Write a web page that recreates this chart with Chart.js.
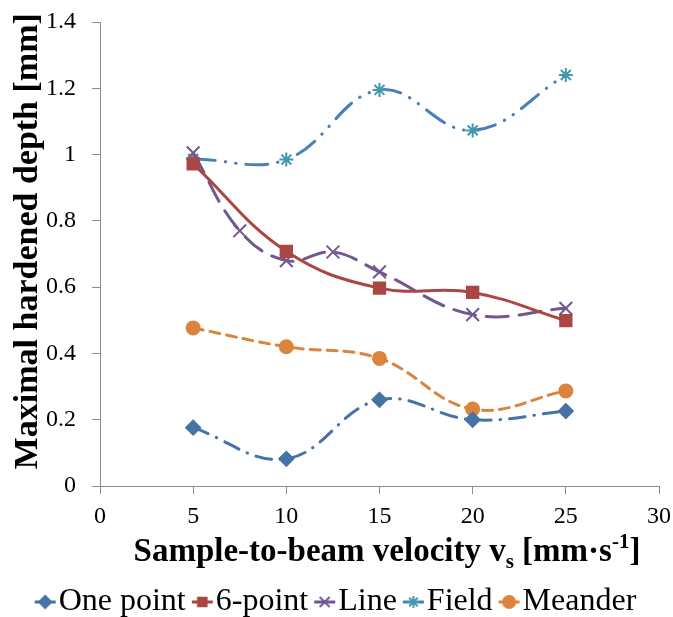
<!DOCTYPE html>
<html>
<head>
<meta charset="utf-8">
<script src="https://cdn.jsdelivr.net/npm/chart.js@4"></script>
<style>
  html, body { margin: 0; padding: 0; background: #fff; }
  #wrap { width: 673px; height: 617px; }
</style>
</head>
<body>
<div id="wrap"><canvas id="depthChart" width="673" height="617"></canvas></div>
<script>
// values
const xOnePoint = [5, 10, 15, 20, 25];
const yOnePoint = [0.176, 0.082, 0.26, 0.2, 0.226];
const xSixPoint = [5, 10, 15, 20, 25];
const ySixPoint = [0.972, 0.708, 0.597, 0.584, 0.499];
const xLine = [5, 7.5, 10, 12.5, 15, 20, 25];
const yLine = [1.005, 0.77, 0.68, 0.706, 0.646, 0.517, 0.536];
const xField = [5, 10, 15, 20, 25];
const yField = [0.987, 0.985, 1.195, 1.073, 1.24];
const xMeander = [5, 10, 15, 20, 25];
const yMeander = [0.477, 0.42, 0.385, 0.232, 0.287];
const xTicks = [0, 5, 10, 15, 20, 25, 30];
const yTicks = [0, 0.2, 0.4, 0.6, 0.8, 1, 1.2, 1.4];

const serif = "'Liberation Serif', 'Times New Roman', serif";

function pts(xs, ys) {
  return xs.map((x, i) => ({ x: x, y: ys[i] }));
}

function series(label, xs, ys, color, markerColor, style, radius, dash) {
  return {
    label: label,
    data: pts(xs, ys),
    showLine: true,
    borderColor: color,
    backgroundColor: markerColor,
    pointBorderColor: markerColor,
    pointBackgroundColor: markerColor,
    pointStyle: style,
    pointRadius: radius,
    pointBorderWidth: 2,
    borderWidth: 3,
    borderDash: dash,
    borderCapStyle: 'round',
    tension: 0.4
  };
}

// legend icon: short line with the marker on it, drawn off-centre so it sits
// right before the label text
function legendIcon(ds) {
  const c = document.createElement('canvas');
  c.width = 40;
  c.height = 18;
  const g = c.getContext('2d');
  g.strokeStyle = ds.borderColor;
  g.lineWidth = 3;
  g.beginPath();
  g.moveTo(13, 9);
  g.lineTo(34, 9);
  g.stroke();
  g.fillStyle = ds.pointBackgroundColor;
  g.strokeStyle = ds.pointBorderColor;
  g.lineWidth = 2;
  Chart.helpers.drawPoint(g, {
    pointStyle: ds.pointStyle,
    radius: ds.pointStyle === 'crossRot' ? 7 : 6,
    borderWidth: 2,
    rotation: 0
  }, 23.5, 9);
  return c;
}

// x axis title with subscript / superscript
const xTitlePlugin = {
  id: 'xTitle',
  afterDraw(chart) {
    const ctx = chart.ctx;
    const parts = [
      { t: 'Sample-to-beam velocity v', size: 33, dy: 0 },
      { t: 's', size: 21, dy: 7 },
      { t: ' [mm\u00b7s', size: 33, dy: 0 },
      { t: '-1', size: 21, dy: -13 },
      { t: ']', size: 33, dy: 0 }
    ];
    ctx.save();
    ctx.fillStyle = '#000';
    ctx.textBaseline = 'alphabetic';
    let total = 0;
    parts.forEach(p => {
      ctx.font = 'bold ' + p.size + 'px ' + serif;
      p.w = ctx.measureText(p.t).width;
      total += p.w;
    });
    let x = 387 - total / 2;
    const base = 561;
    parts.forEach(p => {
      ctx.font = 'bold ' + p.size + 'px ' + serif;
      ctx.fillText(p.t, x, base + p.dy);
      x += p.w;
    });
    ctx.restore();
  }
};

const datasets = [
  series('One point', xOnePoint, yOnePoint, '#4572A7', '#4572A7', 'rectRot', 7, [16, 9, 0.5, 9]),
  series('6-point', xSixPoint, ySixPoint, '#AA4643', '#AA4643', 'rect', 8, []),
  series('Line', xLine, yLine, '#71588F', '#71588F', 'crossRot', 9, [22, 11]),
  series('Field', xField, yField, '#4A7EBB', '#4198AF', 'star', 7, [22, 10, 0.5, 10, 0.5, 10]),
  series('Meander', xMeander, yMeander, '#DB843D', '#DB843D', 'circle', 6.5, [10, 7])
];

new Chart(document.getElementById('depthChart').getContext('2d'), {
  type: 'scatter',
  data: { datasets: datasets },
  plugins: [xTitlePlugin],
  options: {
    responsive: false,
    animation: false,
    layout: { padding: { left: 4, right: 0, top: 22, bottom: -11 } },
    plugins: {
      tooltip: { enabled: false },
      legend: {
        position: 'bottom',
        labels: {
          usePointStyle: true,
          boxWidth: 2,
          padding: 12,
          color: '#000',
          font: { family: serif, size: 32 },
          generateLabels(chart) {
            const items = Chart.defaults.plugins.legend.labels.generateLabels(chart);
            items.forEach(it => {
              it.pointStyle = legendIcon(chart.data.datasets[it.datasetIndex]);
            });
            return items;
          }
        }
      }
    },
    scales: {
      x: {
        type: 'linear',
        min: 0,
        max: 30,
        afterBuildTicks(scale) { scale.ticks = xTicks.map(v => ({ value: v })); },
        afterFit(scale) {
          scale.height = 88;
          scale.paddingRight = 0;
          scale.paddingLeft = 0;
        },
        grid: { drawOnChartArea: false, drawTicks: true, tickLength: 8, color: '#8c8c8c' },
        border: { color: '#8c8c8c', width: 1 },
        ticks: { color: '#000', padding: 8, font: { family: serif, size: 24 } }
      },
      y: {
        type: 'linear',
        min: 0,
        max: 1.4,
        afterBuildTicks(scale) { scale.ticks = yTicks.map(v => ({ value: v })); },
        afterFit(scale) {
          scale.width = 96;
          scale.paddingTop = 0;
          scale.paddingBottom = 0;
        },
        grid: { drawOnChartArea: false, drawTicks: true, tickLength: 8, color: '#8c8c8c' },
        border: { color: '#8c8c8c', width: 1 },
        ticks: {
          color: '#000',
          padding: 16,
          font: { family: serif, size: 24 },
          callback: v => String(+v.toFixed(1))
        },
        title: {
          display: true,
          text: '   Maximal hardened depth [mm]',
          color: '#000',
          padding: { top: 4, bottom: 0 },
          font: { family: serif, size: 34, weight: 'bold' }
        }
      },
      // empty space to the right of the plot
      spacer: {
        type: 'linear',
        position: 'right',
        display: true,
        grid: { display: false },
        border: { display: false },
        ticks: { display: false },
        afterFit(scale) { scale.width = 14; }
      }
    }
  }
});
</script>
</body>
</html>
